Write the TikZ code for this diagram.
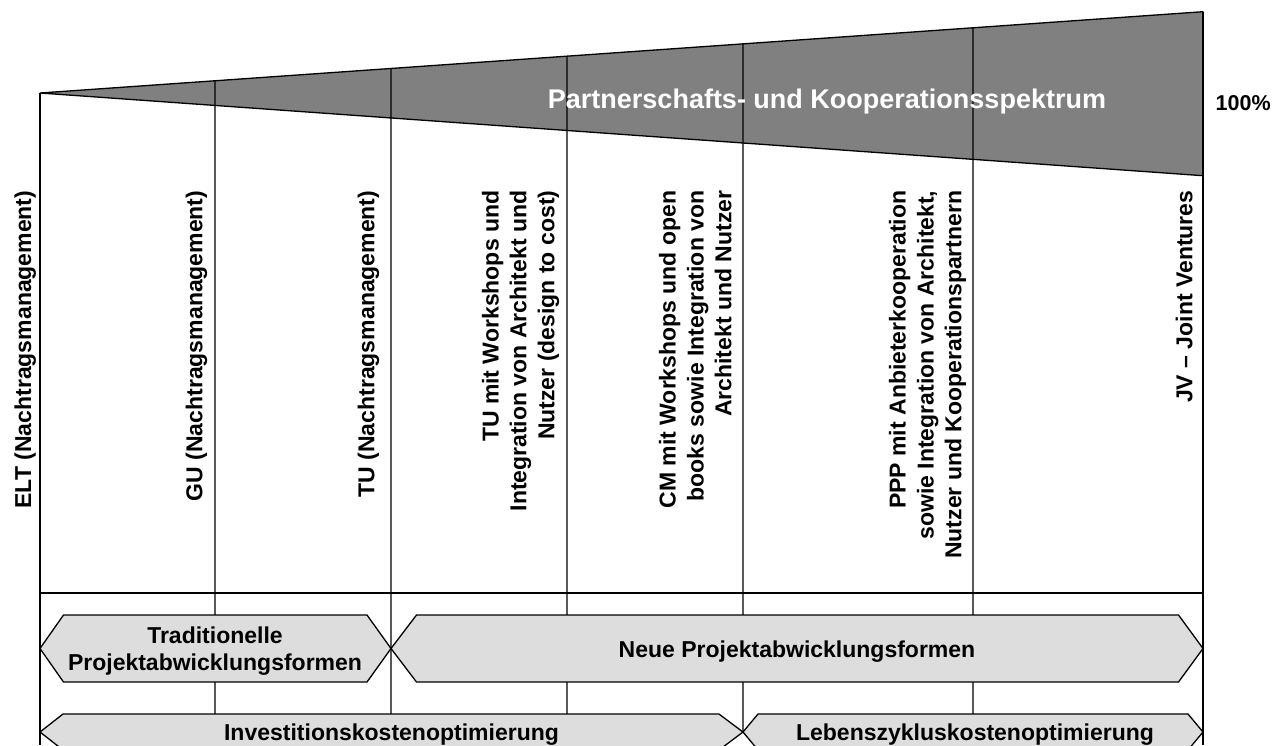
\documentclass[tikz,border=0pt]{standalone}
\usepackage{fontspec}
\setmainfont{Liberation Sans}
\usetikzlibrary{calc}
\definecolor{wedgegray}{RGB}{128,128,128}
\definecolor{barfill}{RGB}{221,221,221}
% fixed depth for the last line of rotated labels
\newcommand{\dstrut}{\rule[-0.22em]{0pt}{0.9em}}
\begin{document}
\begin{tikzpicture}[x=1pt,y=1pt,
  line width=1.3pt,
  collabel/.style={rotate=90, anchor=south east, inner sep=0pt, align=right,
    font=\fontsize{23}{27.8}\selectfont\bfseries},
  barlabel/.style={inner sep=0pt, align=center,
    font=\fontsize{23}{27}\selectfont\bfseries},
  bar/.style={draw=black, fill=barfill, line width=1.3pt, line join=miter}]
\useasboundingbox (0,0) rectangle (1279,-745);

% spectrum wedge
\coordinate (A) at (40,-93);
\coordinate (T) at (1203,-11.7);
\coordinate (B) at (1203,-175.7);
\fill[wedgegray] (A) -- (T) -- (B) -- cycle;

% column boundaries
\foreach \x/\n in {215/1,391/2,567/3,743/4,973/5}
  \coordinate (top\n) at ($(A)!{(\x-40)/1163}!(T)$);
\draw (A) -- (40,-745);
\draw (T) -- (1203,-745);
\draw (top1) -- (215,-745);
\draw (top2) -- (391,-745);
\draw (top3) -- (567,-745);
\draw (top4) -- (743,-732);
\draw (top5) -- (973,-745);
\draw (40,-593) -- (1203,-593);
\draw[line join=bevel] (A) -- (T) -- (B) -- cycle;

\node[font=\fontsize{27}{32}\selectfont\bfseries, text=white, anchor=base, inner sep=0pt]
  (title) at (827,-108.3) {Partnerschafts- und Kooperationsspektrum};
\node[font=\fontsize{21.5}{26}\selectfont\bfseries, anchor=base west, inner sep=0pt]
  (pct) at (1215,-110) {100\%};

% column labels
\node[collabel] (elt) at (36.8,-190) {ELT (Nachtragsmanagement)\dstrut};
\node[collabel] (gu) at (208,-190) {GU (Nachtragsmanagement)\dstrut};
\node[collabel] (tu) at (380,-190) {TU (Nachtragsmanagement)\dstrut};
\node[collabel] (tuw) at (560,-190) {TU mit Workshops und\\Integration von Architekt und\\Nutzer (design to cost)\dstrut};
\node[collabel] (cm) at (737,-190) {CM mit Workshops und open\\books sowie Integration von\\Architekt und Nutzer\dstrut};
\node[collabel] (ppp) at (967,-190) {PPP mit Anbieterkooperation\\sowie Integration von Architekt,\\Nutzer und Kooperationspartnern\dstrut};
\node[collabel] (jv) at (1198,-190) {JV – Joint Ventures\dstrut};

% classification bars
\draw[bar] (40,-648.5) -- (63.5,-615) -- (367,-615) -- (391,-648.5) -- (367,-682) -- (63.5,-682) -- cycle;
\draw[bar] (391,-648.5) -- (416.5,-615) -- (1178.5,-615) -- (1203,-648.5) -- (1178.5,-682) -- (416.5,-682) -- cycle;
\draw[bar] (40,-732) -- (63,-714) -- (719,-714) -- (743,-732) -- (719,-750) -- (63,-750) -- cycle;
\draw[bar] (743,-732) -- (758,-714) -- (1188,-714) -- (1203,-732) -- (1188,-750) -- (758,-750) -- cycle;

\node[barlabel] (trad) at (215,-651.5) {Traditionelle\\Projektabwicklungsformen};
\node[barlabel, anchor=base] (neu) at (797,-657.5) {Neue Projektabwicklungsformen};
\node[barlabel, anchor=base] (inv) at (391.5,-740) {Investitionskostenoptimierung};
\node[barlabel, anchor=base] (leb) at (975,-740) {Lebenszykluskostenoptimierung};
\end{tikzpicture}
\end{document}
